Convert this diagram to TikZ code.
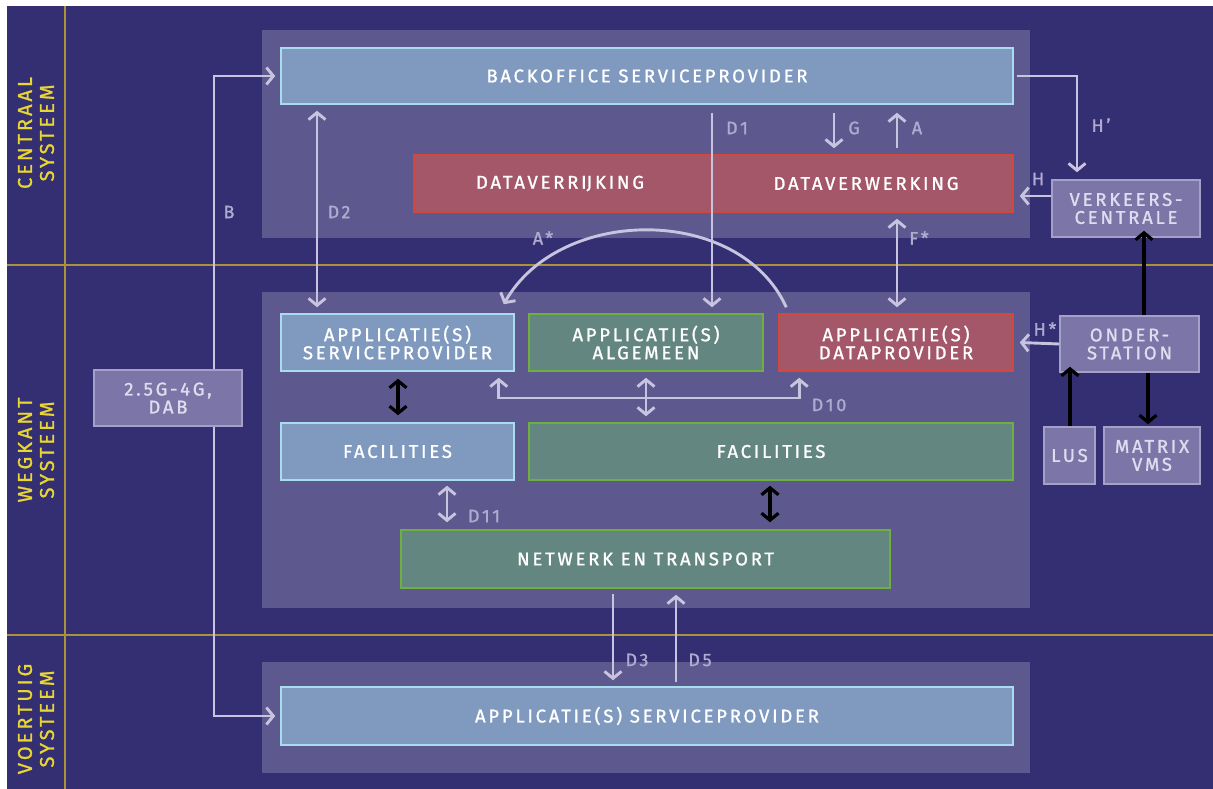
\documentclass[tikz,border=0pt]{standalone}
\usepackage{fontspec}
\setmainfont{Fira Sans}[LetterSpace=15, FakeBold=1.2]
\usetikzlibrary{arrows.meta,calc}
\definecolor{bgc}{RGB}{52,46,114}
\definecolor{panelc}{RGB}{93,88,142}
\definecolor{bluef}{RGB}{128,153,191}
\definecolor{blued}{RGB}{170,220,240}
\definecolor{redf}{RGB}{163,87,104}
\definecolor{redd}{RGB}{210,72,60}
\definecolor{greenf}{RGB}{99,135,128}
\definecolor{greend}{RGB}{110,176,64}
\definecolor{greyf}{RGB}{124,118,168}
\definecolor{greyd}{RGB}{165,160,200}
\definecolor{greyt}{RGB}{222,220,238}
\definecolor{arrc}{RGB}{200,196,224}
\definecolor{labc}{RGB}{176,170,208}
\definecolor{ylinec}{RGB}{168,146,58}
\definecolor{ytext}{RGB}{232,215,50}
\tikzset{
  box/.style={rectangle, line width=1.5pt, inner sep=0pt, align=center, text=white,
    font=\fontsize{18.5}{21}\selectfont},
  bluebox/.style={box, fill=bluef, draw=blued},
  redbox/.style={box, fill=redf, draw=redd},
  greenbox/.style={box, fill=greenf, draw=greend},
  greybox/.style={box, fill=greyf, draw=greyd, text=greyt},
  panel/.style={fill=panelc, draw=none},
  arr/.style={draw=arrc, line width=2.9pt, arrows={-Straight Barb[length=7pt,width=17pt]}},
  darr/.style={arr, arrows={Straight Barb[length=7pt,width=17pt]-Straight Barb[length=7pt,width=17pt]}},
  barr/.style={draw=black, line width=3.2pt, arrows={-Straight Barb[length=7pt,width=17pt]}},
  bdarr/.style={barr, arrows={Straight Barb[length=7pt,width=17pt]-Straight Barb[length=7pt,width=17pt]}},
  lab/.style={text=labc, font=\fontsize{18}{20}\selectfont, inner sep=0pt},
  sect/.style={text=ytext, font=\fontsize{20}{22}\selectfont, rotate=90, align=center, inner sep=0pt},
  gridline/.style={draw=ylinec, line width=1.2pt}
}
\begin{document}
\begin{tikzpicture}[x=1pt,y=-1pt]
\useasboundingbox (0,0) rectangle (1213,789);
\fill[white] (0,0) rectangle (1213,789);
\fill[bgc] (7,6) rectangle (1213,789);
% grid lines
\draw[gridline] (65,6) -- (65,789);
\draw[gridline] (7,265) -- (1213,265);
\draw[gridline] (7,635) -- (1213,635);
% section labels
\node[sect] (s1) at (36,133) {CENTRAAL\\SYSTEEM};
\node[sect] (s2) at (36,450) {WEGKANT\\SYSTEEM};
\node[sect] (s3) at (36,719) {VOERTUIG\\SYSTEEM};
% panels
\fill[panel] (262,30) rectangle (1030,238);
\fill[panel] (262,292) rectangle (1030,608);
\fill[panel] (262,662) rectangle (1030,773);
% boxes
\node[bluebox, minimum width=732pt, minimum height=56pt] (bo) at (647,76) {BACKOFFICE SERVICEPROVIDER};
\node[redbox, minimum width=599pt, minimum height=57pt] (dv) at (713.5,183.5) {};
\node[box] (dvr) at (560,183.5) {DATAVERRĲKING};
\node[box] (dvw) at (866,183.5) {DATAVERWERKING};
\node[bluebox, minimum width=233pt, minimum height=57pt] (asp) at (397.5,342.5) {APPLICATIE(S)\\[-3pt]SERVICEPROVIDER};
\node[greenbox, minimum width=234pt, minimum height=57pt] (aal) at (646,342.5) {APPLICATIE(S)\\[-3pt]ALGEMEEN};
\node[redbox, minimum width=234pt, minimum height=57pt] (adp) at (896,342.5) {APPLICATIE(S)\\[-3pt]DATAPROVIDER};
\node[bluebox, minimum width=233pt, minimum height=57pt] (facb) at (397.5,451.5) {FACILITIES};
\node[greenbox, minimum width=484pt, minimum height=57pt] (facg) at (771,451.5) {FACILITIES};
\node[greenbox, minimum width=489pt, minimum height=58pt] (net) at (645.5,559) {NETWERK EN TRANSPORT};
\node[bluebox, minimum width=732pt, minimum height=58pt] (bsp) at (647,716) {APPLICATIE(S) SERVICEPROVIDER};
\node[greybox, minimum width=148pt, minimum height=57pt] (vc) at (1126,208.5) {VERKEERS-\\[-3pt]CENTRALE};
\node[greybox, minimum width=139pt, minimum height=56pt] (ond) at (1129.5,344) {ONDER-\\[-3pt]STATION};
\node[greybox, minimum width=51pt, minimum height=57pt] (lus) at (1069.5,455.5) {LUS};
\node[greybox, minimum width=96pt, minimum height=57pt] (mvms) at (1152,455.5) {MATRIX\\[-3pt]VMS};
% helper coordinates
\coordinate (x214) at (214,400);
\coordinate (x317) at (317,0);
\coordinate (x712) at (712,0);
\coordinate (x834) at (834,0);
\coordinate (x897) at (897,0);
\coordinate (x1077) at (1077,0);
\coordinate (y196) at (0,196);
\coordinate (x1144) at (1144,0);
\coordinate (x1070) at (1070,0);
\coordinate (x1148) at (1148,0);
\coordinate (x398) at (398,0);
\coordinate (d10) at (646,398);
\coordinate (x447) at (447,0);
\coordinate (x770) at (770,0);
\coordinate (x613) at (613,0);
\coordinate (x676) at (676,0);
% B connector (behind 2.5G box)
\draw[darr] ([xshift=-5pt]bo.west) -| (x214) |- ([xshift=-5pt]bsp.west);
\node[greybox, minimum width=148pt, minimum height=56pt] (g4) at (168,398) {2.5G-4G,\\[-3pt]DAB};
\node[lab] (lb) at (229,212) {B};
% D2
\draw[darr] ([yshift=-6pt]bo.south -| x317) -- ([yshift=6pt]asp.north -| x317);
\node[lab] (ld2) at (339,212) {D2};
% D1
\draw[arr] ([yshift=-8pt]bo.south -| x712) -- ([yshift=6pt]aal.north -| x712);
\node[lab] (ld1) at (737,128) {D1};
% G and A
\draw[arr] ([yshift=-8pt]bo.south -| x834) -- ([yshift=6pt]dv.north -| x834);
\node[lab] (lg) at (854,128) {G};
\draw[arr] ([yshift=6pt]dv.north -| x897) -- ([yshift=-8pt]bo.south -| x897);
\node[lab] (la) at (917,128) {A};
% H'
\draw[arr] ([xshift=3pt]bo.east) -| ([yshift=7pt]vc.north -| x1077);
\node[lab] (lhp) at (1101,125) {H'};
% H
\draw[arr] (vc.west |- y196) -- ([xshift=6pt]dv.east |- y196);
\node[lab] (lh) at (1038,179) {H};
% F*
\draw[darr] ([yshift=-6pt]dv.south -| x897) -- ([yshift=6pt]adp.north -| x897);
\node[lab] (lf) at (919,238) {F*};
% A*
\draw[arr] ([shift={(8pt,6pt)}]adp.north west) .. controls (740,205) and (560,205) .. ([shift={(-11pt,9pt)}]asp.north east);
\node[lab] (las) at (543,238) {A*};
% H*
\draw[arr] (ond.west) -- ([xshift=6pt]adp.east);
\node[lab] (lhs) at (1045,329) {H*};
% black connectors on the right
\draw[barr] (ond.north -| x1144) -- ([yshift=7pt]vc.south -| x1144);
\draw[barr] (lus.north -| x1070) -- ([yshift=6pt]ond.south -| x1070);
\draw[barr] (ond.south -| x1148) -- ([yshift=2pt]mvms.north -| x1148);
% middle panel connectors
\draw[bdarr] ([yshift=-7pt]asp.south -| x398) -- ([yshift=7pt]facb.north -| x398);
\draw[darr] ([xshift=-16pt,yshift=-6pt]asp.south east) |- (d10) -| ([xshift=21pt,yshift=-6pt]adp.south west);
\draw[darr] ([yshift=-6pt]aal.south) -- ([yshift=6pt]facg.north -| aal.south);
\node[lab] (ld10) at (829,405) {D10};
\draw[darr] ([yshift=-5pt]facb.south -| x447) -- ([yshift=7pt]net.north -| x447);
\node[lab] (ld11) at (484,516) {D11};
\draw[bdarr] ([yshift=-5pt]facg.south -| x770) -- ([yshift=7pt]net.north -| x770);
% D3 D5
\draw[arr] ([yshift=-5pt]net.south -| x613) -- ([yshift=6pt]bsp.north -| x613);
\node[lab] (ld3) at (637,660) {D3};
\draw[arr] ([yshift=4pt]bsp.north -| x676) -- ([yshift=-6pt]net.south -| x676);
\node[lab] (ld5) at (700,660) {D5};
\end{tikzpicture}
\end{document}
